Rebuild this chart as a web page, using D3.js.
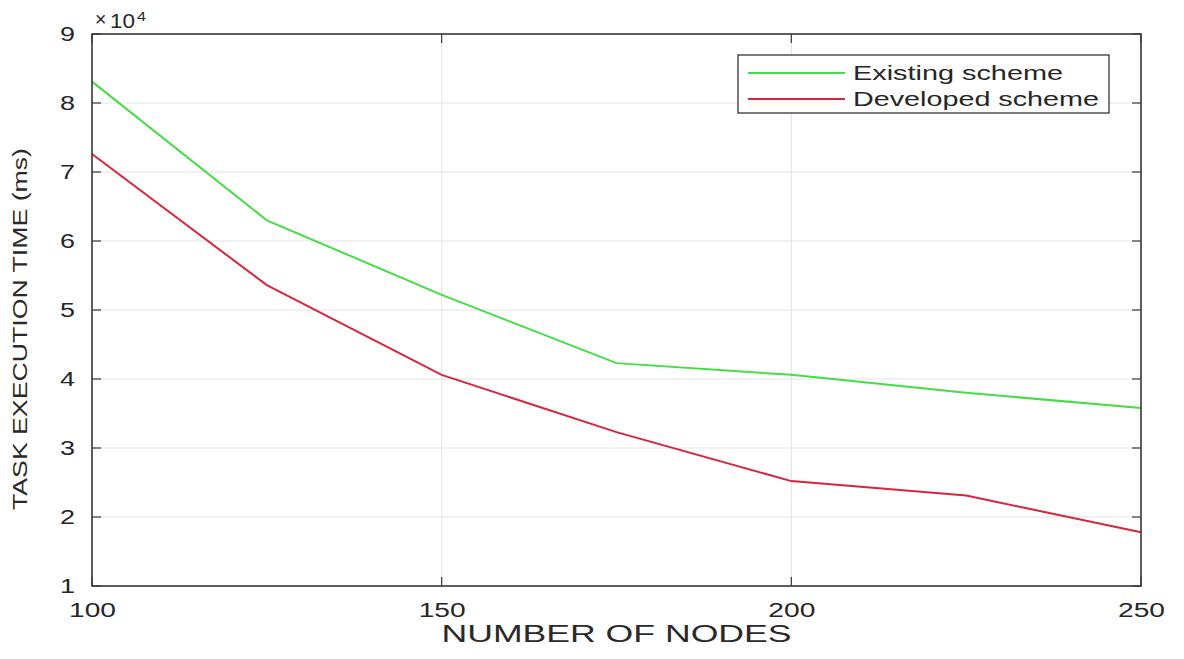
<!DOCTYPE html>
<html lang="en">
<head>
    <meta charset="UTF-8">
    <script src="https://d3js.org/d3.v7.min.js"></script>
    <style>
        body {
            margin: 0;
            background: #fff;
            font-family: "Liberation Sans", Arial, sans-serif;
        }
        .grid line {
            stroke: #e3e3e3;
            stroke-width: 1px;
        }
        .tick-label {
            fill: #262626;
            font-size: 19.5px;
        }
        .series {
            fill: none;
            stroke-width: 2px;
        }
    </style>
</head>
<body>
    <div id="chart"></div>

    <script>
        // values
        const nodes = [100, 125, 150, 175, 200, 225, 250];
        const existingScheme = [83100, 63000, 52200, 42300, 40600, 38000, 35800];
        const developedScheme = [72600, 53600, 40600, 32300, 25200, 23100, 17800];
        const xTicks = [100, 150, 200, 250];
        const yTicks = [10000, 20000, 30000, 40000, 50000, 60000, 70000, 80000, 90000];
        const seriesNames = ["Existing scheme", "Developed scheme"];

        const W = 1184, H = 659;
        const margin = {top: 34, right: 43, bottom: 73, left: 92},
            width = W - margin.left - margin.right,
            height = H - margin.top - margin.bottom;

        const root = d3.select("#chart")
            .append("svg")
            .attr("width", W)
            .attr("height", H);

        const svg = root.append("g")
            .attr("transform", `translate(${margin.left},${margin.top})`);

        const x = d3.scaleLinear().domain([100, 250]).range([0, width]);
        const y = d3.scaleLinear().domain([10000, 90000]).range([height, 0]);

        // grid
        svg.append("g").attr("class", "grid")
            .selectAll("line.h")
            .data(yTicks)
            .enter().append("line")
            .attr("x1", 0).attr("x2", width)
            .attr("y1", d => y(d)).attr("y2", d => y(d));
        svg.append("g").attr("class", "grid")
            .selectAll("line.v")
            .data(xTicks)
            .enter().append("line")
            .attr("y1", 0).attr("y2", height)
            .attr("x1", d => x(d)).attr("x2", d => x(d));

        // ticks on all four sides, pointing inward (matlab box)
        const tickLen = 9;
        const axisCol = "#3a3a3a";
        const tk = svg.append("g").attr("stroke", axisCol).attr("stroke-width", 1.2);
        yTicks.forEach(v => {
            tk.append("line").attr("x1", 0).attr("x2", tickLen).attr("y1", y(v)).attr("y2", y(v));
            tk.append("line").attr("x1", width).attr("x2", width - tickLen).attr("y1", y(v)).attr("y2", y(v));
        });
        xTicks.forEach(v => {
            tk.append("line").attr("y1", height).attr("y2", height - tickLen).attr("x1", x(v)).attr("x2", x(v));
            tk.append("line").attr("y1", 0).attr("y2", tickLen).attr("x1", x(v)).attr("x2", x(v));
        });

        // series
        const line = d3.line()
            .x((d, i) => x(nodes[i]))
            .y(d => y(d));

        svg.append("path")
            .datum(existingScheme)
            .attr("class", "series")
            .attr("stroke", "#44dd44")
            .attr("d", line);

        svg.append("path")
            .datum(developedScheme)
            .attr("class", "series")
            .attr("stroke", "#d8253c")
            .attr("d", line);

        // box
        svg.append("rect")
            .attr("width", width).attr("height", height)
            .attr("fill", "none")
            .attr("stroke", axisCol)
            .attr("stroke-width", 1.6);

        // tick labels
        svg.selectAll(".ylab")
            .data(yTicks)
            .enter().append("text")
            .attr("class", "tick-label")
            .attr("x", -17)
            .attr("y", d => y(d) + 7)
            .attr("text-anchor", "end")
            .attr("textLength", 15)
            .attr("lengthAdjust", "spacingAndGlyphs")
            .text(d => d / 10000);

        svg.selectAll(".xlab")
            .data(xTicks)
            .enter().append("text")
            .attr("class", "tick-label")
            .attr("x", d => x(d) - 23)
            .attr("y", height + 31)
            .attr("textLength", 47)
            .attr("lengthAdjust", "spacingAndGlyphs")
            .text(d => d);

        // exponent
        svg.append("text")
            .attr("class", "tick-label")
            .attr("x", 3).attr("y", -8)
            .attr("font-size", "17px")
            .attr("fill", "#555")
            .text("\u00d7");
        svg.append("text")
            .attr("class", "tick-label")
            .attr("x", 18).attr("y", -6)
            .attr("textLength", 25)
            .attr("lengthAdjust", "spacingAndGlyphs")
            .text("10");
        svg.append("text")
            .attr("class", "tick-label")
            .attr("x", 45).attr("y", -13)
            .style("font-size", "12px")
            .attr("textLength", 9)
            .attr("lengthAdjust", "spacingAndGlyphs")
            .text("4");

        // axis labels
        svg.append("text")
            .attr("x", width / 2 - 0)
            .attr("y", height + 56)
            .attr("text-anchor", "middle")
            .attr("fill", "#2a2a2a")
            .attr("font-size", "23px")
            .attr("textLength", 350)
            .attr("lengthAdjust", "spacingAndGlyphs")
            .text("NUMBER OF NODES");

        svg.append("text")
            .attr("transform", `translate(${-65},${329 - margin.top}) rotate(-90)`)
            .attr("text-anchor", "middle")
            .attr("fill", "#2a2a2a")
            .attr("font-size", "20px")
            .attr("textLength", 362)
            .attr("lengthAdjust", "spacingAndGlyphs")
            .text("TASK EXECUTION TIME (ms)");

        // legend
        const lg = svg.append("g").attr("transform", `translate(${738 - margin.left},${55 - margin.top})`);
        lg.append("rect")
            .attr("width", 371).attr("height", 58)
            .attr("fill", "#fff")
            .attr("stroke", "#262626")
            .attr("stroke-width", 1.2);
        const legendColors = ["#44dd44", "#d8253c"];
        const legendLens = [210, 246];
        seriesNames.forEach((name, i) => {
            const yy = 18 + i * 26;
            lg.append("line")
                .attr("x1", 10).attr("x2", 107)
                .attr("y1", yy).attr("y2", yy)
                .attr("stroke", legendColors[i])
                .attr("stroke-width", 2);
            lg.append("text")
                .attr("x", 115)
                .attr("y", yy + 7)
                .attr("fill", "#262626")
                .attr("font-size", "20px")
                .attr("textLength", legendLens[i])
                .attr("lengthAdjust", "spacingAndGlyphs")
                .text(name);
        });
    </script>
</body>
</html>
